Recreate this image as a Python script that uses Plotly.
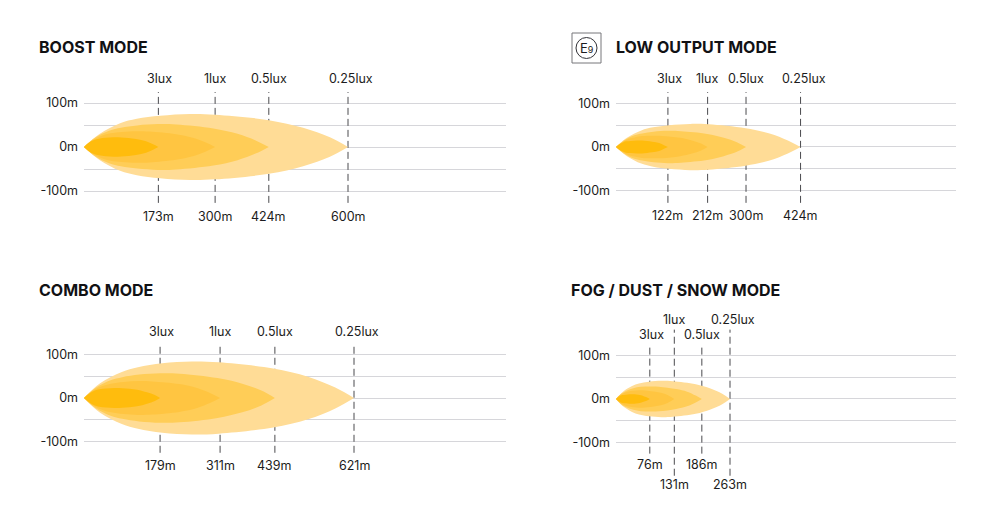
import plotly.graph_objects as go

FONT = "Inter"
TEXT = "#1C1C20"

y_ticks = [100, 50, 0, -50, -100]
y_labels = ["100m", "", "0m", "", "-100m"]
lux_labels = ["0.25lux", "0.5lux", "1lux", "3lux"]
lux_shift = [3, 0, 0, 1.5]

# beam outlines, upper half only (distance m, half width m), outermost first
boost_025_x = [0, 36, 82, 120, 173, 241, 298, 420, 498, 559, 600]
boost_025_y = [0, 30, 54, 64, 71, 75, 73.5, 61, 43.5, 22, 0]
boost_05_x = [0, 25, 57, 84, 121, 168, 210, 294, 349, 390, 420]
boost_05_y = [0, 21, 37, 44, 49, 52, 51, 42, 30, 15, 0]
boost_1_x = [0, 18, 42, 60, 86, 119, 149, 209, 247, 277, 298]
boost_1_y = [0, 14, 26, 31, 34, 36, 35, 29, 21, 10, 0]
boost_3_x = [0, 10, 23, 34, 49, 67, 85, 118, 141, 157, 169]
boost_3_y = [0, 9, 16, 19, 21, 22, 21.5, 18, 13, 6, 0]

low_025_x = [0, 25, 58, 85, 122, 170, 212, 297, 352, 394, 423]
low_025_y = [0, 21, 38, 45, 50, 53, 52, 43, 31, 15, 0]
low_05_x = [0, 18, 42, 60, 86, 119, 149, 209, 247, 277, 298]
low_05_y = [0, 15, 27, 31, 35, 37, 36, 30, 21, 11, 0]
low_1_x = [0, 13, 30, 42, 60, 84, 105, 147, 174, 195, 210]
low_1_y = [0, 10, 19, 22, 25, 26, 25.5, 21, 15, 8, 0]
low_3_x = [0, 7, 17, 23, 34, 48, 60, 83, 99, 110, 119]
low_3_y = [0, 6, 11, 13, 14, 15, 14.7, 12, 9, 4, 0]

combo_025_x = [0, 37, 87, 124, 180, 248, 310, 435, 515, 578, 621]
combo_025_y = [0, 34, 60, 71, 80, 84, 82, 68, 49, 24, 0]
combo_05_x = [0, 26, 61, 88, 127, 176, 220, 307, 364, 408, 439]
combo_05_y = [0, 23, 41, 48, 54, 57, 56, 46, 33, 17, 0]
combo_1_x = [0, 19, 44, 62, 91, 125, 157, 219, 260, 291, 313]
combo_1_y = [0, 16, 28, 33, 37, 39, 38, 32, 23, 11, 0]
combo_3_x = [0, 11, 25, 35, 51, 70, 88, 122, 145, 163, 175]
combo_3_y = [0, 9, 17, 20, 22, 23, 22.5, 19, 13, 7, 0]

fog_025_x = [0, 16, 37, 53, 76, 105, 131, 184, 218, 245, 263]
fog_025_y = [0, 17, 30, 36, 40, 42, 41, 34, 24, 12, 0]
fog_05_x = [0, 12, 28, 40, 57, 79, 99, 139, 164, 184, 198]
fog_05_y = [0, 12, 21, 25, 28, 29, 28.5, 23, 17, 8, 0]
fog_1_x = [0, 8, 19, 27, 39, 54, 67, 94, 112, 125, 134.5]
fog_1_y = [0, 8, 14, 17, 19, 20, 19.6, 16, 12, 6, 0]
fog_3_x = [0, 5, 11, 15, 23, 31, 39, 55, 65, 73, 78]
fog_3_y = [0, 4, 8, 9, 10, 11, 10.8, 9, 6, 3, 0]

# printed distances, same order as lux_labels
boost_dist = [600, 424, 300, 173]
low_dist = [424, 300, 212, 122]
combo_dist = [621, 439, 311, 179]
fog_dist = [263, 186, 131, 76]

# where the dashed markers actually sit in the picture (not quite the printed value)
boost_pos = [600, 420, 298, 169]
low_pos = [423, 298, 210, 119]
combo_pos = [621, 439, 313, 175]
fog_pos = [263, 198, 134.5, 78]

beam_colors = ["#FFDC96", "#FFCD57", "#FFC541", "#FFBC0D"]

# x0/x1/cy are pixels, scale is px per metre, tops/bottoms = dash ends and label y in metres
panels = [
    dict(title="BOOST MODE", tx=39, ty=47, x0=84, x1=506, cy=147, scale=0.44, dist=boost_dist, pos=boost_pos,
         beams=[(boost_025_x, boost_025_y), (boost_05_x, boost_05_y), (boost_1_x, boost_1_y), (boost_3_x, boost_3_y)],
         top=[125] * 4, bottom=[-127] * 4, ltop=[155] * 4, lbottom=[-157] * 4),
    dict(title="LOW OUTPUT MODE", tx=616, ty=47, x0=616, x1=956, cy=147, scale=0.4363, dist=low_dist, pos=low_pos,
         beams=[(low_025_x, low_025_y), (low_05_x, low_05_y), (low_1_x, low_1_y), (low_3_x, low_3_y)],
         top=[126] * 4, bottom=[-128] * 4, ltop=[156] * 4, lbottom=[-158] * 4),
    dict(title="COMBO MODE", tx=39, ty=290, x0=84, x1=506, cy=398, scale=0.4348, dist=combo_dist, pos=combo_pos,
         beams=[(combo_025_x, combo_025_y), (combo_05_x, combo_05_y), (combo_1_x, combo_1_y), (combo_3_x, combo_3_y)],
         top=[124] * 4, bottom=[-126] * 4, ltop=[154] * 4, lbottom=[-156] * 4),
    dict(title="FOG / DUST / SNOW MODE", tx=571, ty=290, x0=616, x1=956, cy=399, scale=0.4335, dist=fog_dist, pos=fog_pos,
         beams=[(fog_025_x, fog_025_y), (fog_05_x, fog_05_y), (fog_1_x, fog_1_y), (fog_3_x, fog_3_y)],
         top=[160, 125, 160, 125], bottom=[-177, -126, -177, -126], ltop=[183, 148, 183, 148], lbottom=[-198, -151, -198, -151]),
]

W, H = 1000, 530
Y_SPAN = 210
# the page body adds 8px around the plot, so every pixel position is pulled back by this
PAGE = 8


def px(v):
    return (v - PAGE) / W


def py(v):
    return 1 - (v - PAGE) / H


fig = go.Figure()
annotations = []

for n, p in enumerate(panels):
    suffix = "" if n == 0 else str(n + 1)
    xa, ya = "x" + suffix, "y" + suffix

    # dashed lux markers go first so the beams cover them
    for d, t, b in zip(p["pos"], p["top"], p["bottom"]):
        fig.add_trace(go.Scatter(x=[d, d], y=[b, t], xaxis=xa, yaxis=ya, mode="lines",
                                 line=dict(color="#4A4A4E", width=1, dash="7px,4px"), hoverinfo="skip"))

    # upper and lower half as separate polygons (gap in the middle) so both tips stay sharp
    for (bx, by), c in zip(p["beams"], beam_colors):
        fig.add_trace(go.Scatter(x=bx + [None] + bx, y=by + [None] + [-v for v in by], xaxis=xa, yaxis=ya,
                                 mode="lines", fill="toself", fillcolor=c,
                                 line=dict(width=0, shape="spline", smoothing=1.0), hoverinfo="skip"))

    for d, x, lab, sh, lt, lb in zip(p["dist"], p["pos"], lux_labels, lux_shift, p["ltop"], p["lbottom"]):
        annotations.append(dict(x=x, y=lt, xref=xa, yref=ya, text=lab, showarrow=False, yanchor="middle", xshift=sh,
                                font=dict(family=FONT, size=12.5, color=TEXT)))
        annotations.append(dict(x=x, y=lb, xref=xa, yref=ya, text=f"{d}m", showarrow=False, yanchor="middle",
                                font=dict(family=FONT, size=12.5, color=TEXT)))

    annotations.append(dict(x=px(p["tx"]), y=py(p["ty"]), xref="paper", yref="paper", xanchor="left", yanchor="middle",
                            text=f"<b>{p['title']}</b>", showarrow=False, xshift=-2,
                            font=dict(family=FONT, size=16, color="#111114")))

    span_px = Y_SPAN * p["scale"]
    fig.update_layout({
        "xaxis" + suffix: dict(domain=[px(p["x0"]), px(p["x1"])], range=[0, (p["x1"] - p["x0"]) / p["scale"]],
                               visible=False, anchor=ya),
        "yaxis" + suffix: dict(domain=[py(p["cy"] + span_px), py(p["cy"] - span_px)],
                               range=[-Y_SPAN, Y_SPAN], anchor=xa, tickvals=y_ticks, ticktext=y_labels,
                               showgrid=True, gridcolor="#D6D6DA", gridwidth=1.2, zeroline=False, showline=False,
                               ticks="", ticklabelstandoff=5,
                               tickfont=dict(family=FONT, size=12.5, color=TEXT)),
    })

# E9 approval badge next to the low output title
annotations.append(dict(x=px(586.5), y=py(47.5), xref="paper", yref="paper", showarrow=False,
                        xanchor="center", yanchor="middle",
                        text="E<span style='font-size:9px'>9</span>",
                        font=dict(family=FONT, size=13, color=TEXT)))
shapes = [
    dict(type="rect", xref="paper", yref="paper", x0=px(572), x1=px(601), y0=py(63), y1=py(33),
         line=dict(color="#77777A", width=1)),
    dict(type="circle", xref="paper", yref="paper", x0=px(576), x1=px(597), y0=py(58.5), y1=py(37.5),
         line=dict(color="#333338", width=1)),
]

fig.update_layout(width=W, height=H, margin=dict(l=0, r=0, t=0, b=0), showlegend=False,
                  plot_bgcolor="white", paper_bgcolor="white",
                  annotations=annotations, shapes=shapes)

fig.write_html("out.html")
